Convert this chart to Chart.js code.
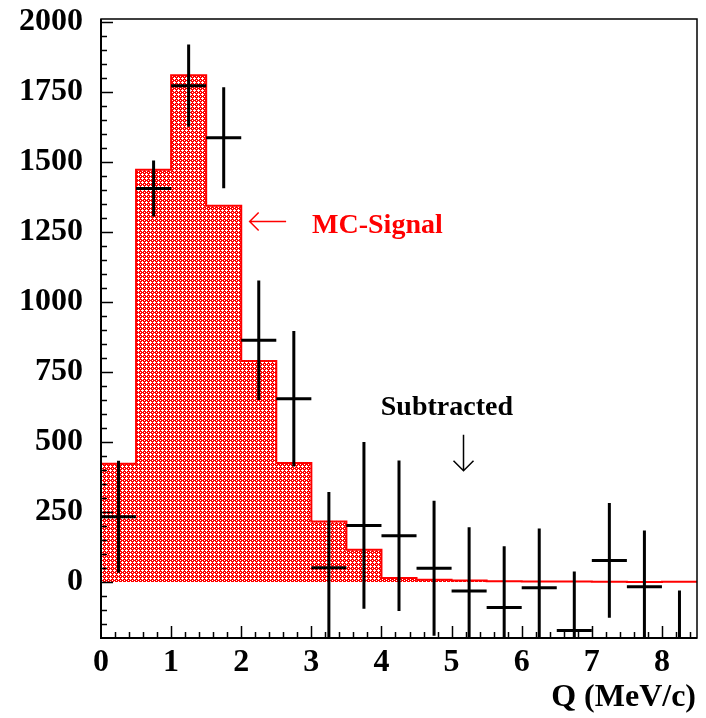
<!DOCTYPE html>
<html>
<head>
<meta charset="utf-8">
<script src="https://cdn.jsdelivr.net/npm/chart.js@4"></script>
<style>
  body { margin: 0; background: #fff; }
  #c { display: block; }
</style>
</head>
<body>
<canvas id="c" width="706" height="718"></canvas>
<script>
// === Data ===
const binEdges = [0, 0.5, 1, 1.5, 2, 2.5, 3, 3.5, 4, 4.5, 5, 5.5, 6, 6.5, 7, 7.5, 8, 8.5];
const mcSignal = [422, 1472, 1809, 1343, 789, 425, 216, 115, 14, 8, 5, 3, 2, 2, 1, 0, 1];
const dataValues = [233, 1405, 1772, 1586, 863, 654, 51, 202, 165, 49, -32, -91, -21, -173, 77, -17, -230];
const dataErrors = [200, 100, 147, 180, 213, 242, 270, 298, 269, 241, 227, 219, 212, 210, 205, 201, 200];
const xTicks = [0, 1, 2, 3, 4, 5, 6, 7, 8];
const yTicks = [0, 250, 500, 750, 1000, 1250, 1500, 1750, 2000];

const FONT = '"Liberation Serif", "DejaVu Serif", serif';

// === hatch pattern for MC histogram (red lattice with white holes) ===
function makeHatch() {
  const t = document.createElement("canvas");
  t.width = 4; t.height = 4;
  const g = t.getContext("2d");
  g.fillStyle = "#ff0000";
  g.fillRect(0, 0, 4, 4);
  g.fillStyle = "#ffffff";
  [[2, 1], [1, 2], [2, 2], [3, 2], [2, 3], [0, 0]].forEach(([px, py]) => g.fillRect(px, py, 1, 1));
  return g.createPattern(t, "repeat");
}

// histogram step points (left edges + closing point)
const histPoints = binEdges.map((x, i) => ({ x, y: mcSignal[Math.min(i, mcSignal.length - 1)] }));

// === Plugin: error crosses, frame, ticks, labels ===
const rootStyle = {
  id: "rootStyle",
  afterDatasetsDraw(chart) {
    const { ctx, chartArea: a, scales: { x, y } } = chart;
    ctx.save();
    ctx.beginPath();
    ctx.rect(a.left, a.top, a.right - a.left, a.bottom - a.top);
    ctx.clip();
    ctx.strokeStyle = "#000";
    ctx.lineWidth = 3;
    dataValues.forEach((v, i) => {
      const x0 = x.getPixelForValue(binEdges[i]);
      const x1 = x.getPixelForValue(binEdges[i + 1]);
      const xc = (x0 + x1) / 2;
      const yc = y.getPixelForValue(v);
      ctx.beginPath();
      ctx.moveTo(x0, yc); ctx.lineTo(x1, yc);
      ctx.moveTo(xc, y.getPixelForValue(v + dataErrors[i]));
      ctx.lineTo(xc, y.getPixelForValue(v - dataErrors[i]));
      ctx.stroke();
    });
    ctx.restore();
  },
  afterDraw(chart) {
    const { ctx, chartArea: a, scales: { x, y } } = chart;
    ctx.save();
    // frame
    ctx.strokeStyle = "#000";
    ctx.lineWidth = 1.5;
    ctx.strokeRect(a.left, a.top, a.right - a.left, a.bottom - a.top);
    ctx.lineWidth = 2;
    ctx.beginPath();
    ctx.moveTo(a.left, a.top); ctx.lineTo(a.left, a.bottom); ctx.lineTo(a.right, a.bottom);
    ctx.stroke();

    // ticks (inward)
    ctx.lineWidth = 1.5;
    ctx.beginPath();
    for (let v = -150; v <= 2000; v += 50) {
      const py = Math.round(y.getPixelForValue(v)) + 0.5;
      const len = v % 250 === 0 ? 12 : 6;
      ctx.moveTo(a.left, py); ctx.lineTo(a.left + len, py);
    }
    for (let k = 1; k <= 42; k++) {
      const v = k * 0.2;
      const px = Math.round(x.getPixelForValue(v)) + 0.5;
      const len = k % 5 === 0 ? 12 : 6;
      ctx.moveTo(px, a.bottom); ctx.lineTo(px, a.bottom - len);
    }
    ctx.stroke();

    // axis title
    ctx.fillStyle = "#000";
    ctx.font = "bold 32px " + FONT;
    ctx.textAlign = "right";
    ctx.textBaseline = "alphabetic";
    ctx.fillText("Q (MeV/c)", a.right - 1, 706);

    // annotations
    ctx.font = "bold 28px " + FONT;
    ctx.textAlign = "left";
    ctx.fillStyle = "#ff0000";
    ctx.fillText("MC-Signal", x.getPixelForValue(3.01), y.getPixelForValue(1247));
    ctx.fillStyle = "#000";
    ctx.fillText("Subtracted", x.getPixelForValue(3.99), y.getPixelForValue(597));

    ctx.lineWidth = 1.5;
    // left arrow (red)
    ctx.strokeStyle = "#ff0000";
    const ay = y.getPixelForValue(1287);
    const ax0 = x.getPixelForValue(2.12), ax1 = x.getPixelForValue(2.64);
    ctx.beginPath();
    ctx.moveTo(ax1, ay); ctx.lineTo(ax0, ay);
    ctx.moveTo(ax0 + 9, ay - 9); ctx.lineTo(ax0, ay); ctx.lineTo(ax0 + 9, ay + 9);
    ctx.stroke();
    // down arrow (black)
    ctx.strokeStyle = "#000";
    const dx = x.getPixelForValue(5.17);
    const dy0 = y.getPixelForValue(526), dy1 = y.getPixelForValue(397);
    ctx.beginPath();
    ctx.moveTo(dx, dy0); ctx.lineTo(dx, dy1);
    ctx.moveTo(dx - 10, dy1 - 10); ctx.lineTo(dx, dy1); ctx.lineTo(dx + 10, dy1 - 10);
    ctx.stroke();
    ctx.restore();
  }
};

const ctx = document.getElementById("c").getContext("2d");
new Chart(ctx, {
  type: "line",
  data: {
    datasets: [{
      label: "MC-Signal",
      data: histPoints,
      stepped: "before",
      borderColor: "#ff0000",
      borderWidth: 2,
      backgroundColor: makeHatch(),
      fill: "origin",
      pointRadius: 0,
      tension: 0
    }]
  },
  options: {
    responsive: false,
    animation: false,
    layout: { padding: { top: 19, right: 9, left: 0, bottom: 0 } },
    plugins: { legend: { display: false }, tooltip: { enabled: false } },
    scales: {
      x: {
        type: "linear",
        min: 0, max: 8.5,
        grid: { display: false },
        border: { display: false },
        afterBuildTicks: s => { s.ticks = xTicks.map(v => ({ value: v })); },
        afterFit: s => { s.height = 80; s.paddingLeft = 0; s.paddingRight = 0; },
        ticks: {
          autoSkip: false, maxRotation: 0, padding: -2,
          color: "#000",
          font: { family: FONT, size: 32, weight: "bold" },
          callback: v => String(v)
        }
      },
      y: {
        type: "linear",
        min: -200, max: 2010,
        grid: { display: false },
        border: { display: false },
        afterBuildTicks: s => { s.ticks = yTicks.map(v => ({ value: v })); },
        afterFit: s => { s.width = 101; s.paddingTop = 0; s.paddingBottom = 0; },
        ticks: {
          autoSkip: false, padding: 10,
          color: "#000",
          font: { family: FONT, size: 32, weight: "bold" },
          callback: v => String(v)
        }
      }
    }
  },
  plugins: [rootStyle]
});
</script>
</body>
</html>
